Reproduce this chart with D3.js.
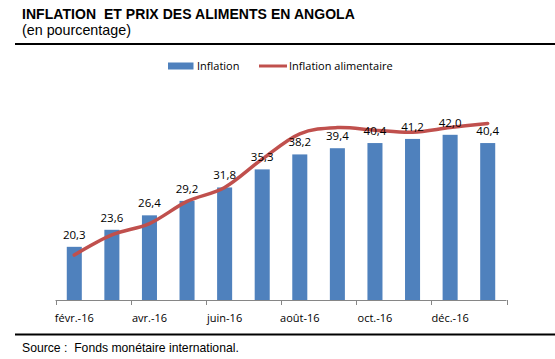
<!DOCTYPE html>
<html><head><meta charset="utf-8">
<script src="https://cdn.jsdelivr.net/npm/d3@7"></script>
<style>body{margin:0;background:#fff}svg{display:block}</style>
</head><body>
<script>
const categories = ["févr.-16","mars-16","avr.-16","mai-16","juin-16","juil.-16","août-16","sept.-16","oct.-16","nov.-16","déc.-16","janv.-17"];
const inflation = [20.3,23.6,26.4,29.2,31.8,35.3,38.2,39.4,40.4,41.2,42.0,40.4];
const inflationAlimentaire = [18.7,22.6,24.8,29.1,31.8,37.3,42.2,43.4,42.9,42.5,43.4,44.2];
const yDomain = [10,50];

const W=555,H=359;
const svg=d3.select("body").append("svg").attr("width",W).attr("height",H);
const left=55.5,right=506.5,bottom=300;
const x=d3.scaleBand().domain(categories).range([left,right]).paddingInner(0.6).paddingOuter(0.3);
const y=d3.scaleLinear().domain(yDomain).range([bottom,93.5]);

// title
svg.append("text").attr("x",22).attr("y",19).attr("font-family","Liberation Sans, Arial").attr("font-weight","bold").attr("font-size",14).attr("letter-spacing",0.05).attr("fill","#000").text("INFLATION  ET PRIX DES ALIMENTS EN ANGOLA").style("white-space","pre");
svg.append("text").attr("x",22).attr("y",35).attr("font-family","Liberation Sans, Arial").attr("font-size",14.3).attr("fill","#000").text("(en pourcentage)");
svg.append("line").attr("x1",15).attr("x2",555).attr("y1",44).attr("y2",44).attr("stroke","#000").attr("stroke-width",2.2);
svg.append("line").attr("x1",15).attr("x2",555).attr("y1",334.5).attr("y2",334.5).attr("stroke","#000").attr("stroke-width",2.2);
svg.append("text").attr("x",22).attr("y",352).attr("font-family","Liberation Sans, Arial").attr("font-size",12.2).attr("fill","#000").text("Source :  Fonds monétaire international.").style("white-space","pre");

// legend
const lf="Open Sans, sans-serif";
svg.append("rect").attr("x",168).attr("y",62.5).attr("width",25.5).attr("height",7).attr("fill","#4F81BD");
svg.append("text").attr("x",197).attr("y",70).attr("font-family",lf).attr("font-size",11).attr("fill","#000").text("Inflation");
svg.append("line").attr("x1",259).attr("x2",287).attr("y1",66).attr("y2",66).attr("stroke","#C0504D").attr("stroke-width",3);
svg.append("text").attr("x",289).attr("y",70).attr("font-family",lf).attr("font-size",11).attr("fill","#000").text("Inflation alimentaire");

// bars
svg.append("g").selectAll("rect").data(inflation).join("rect")
  .attr("x",(d,i)=>x(categories[i])).attr("width",x.bandwidth())
  .attr("y",d=>y(d)).attr("height",d=>bottom-y(d)).attr("fill","#4F81BD");

// axis
const step=(right-left)/categories.length;
const ax=svg.append("g");
ax.append("line").attr("x1",left).attr("x2",right).attr("y1",bottom+0.5).attr("y2",bottom+0.5).attr("stroke","#868686");
for(let i=0;i<=categories.length;i+=2){
  const tx=Math.round(left+i*step)+0.5;
  ax.append("line").attr("x1",tx).attr("x2",tx).attr("y1",bottom).attr("y2",bottom+5).attr("stroke","#868686");
}
ax.selectAll("text.t").data(categories.filter((d,i)=>i%2===0)).join("text")
  .attr("x",d=>x(d)+x.bandwidth()/2).attr("y",322).attr("text-anchor","middle")
  .attr("font-family",lf).attr("font-size",11).attr("fill","#000").text(d=>d);

// line
const line=d3.line().x((d,i)=>x(categories[i])+x.bandwidth()/2).y(d=>y(d)).curve(d3.curveCardinal.tension(0));
svg.append("path").datum(inflationAlimentaire).attr("d",line).attr("fill","none").attr("stroke","#C0504D").attr("stroke-width",3.5).attr("stroke-linecap","round");

// labels
svg.append("g").selectAll("text").data(inflation).join("text")
  .attr("x",(d,i)=>x(categories[i])+x.bandwidth()/2).attr("y",d=>y(d)-8)
  .attr("text-anchor","middle").attr("font-family",lf).attr("font-size",11.5).attr("fill","#000")
  .text(d=>d.toFixed(1).replace(".",","));
</script>
</body></html>
